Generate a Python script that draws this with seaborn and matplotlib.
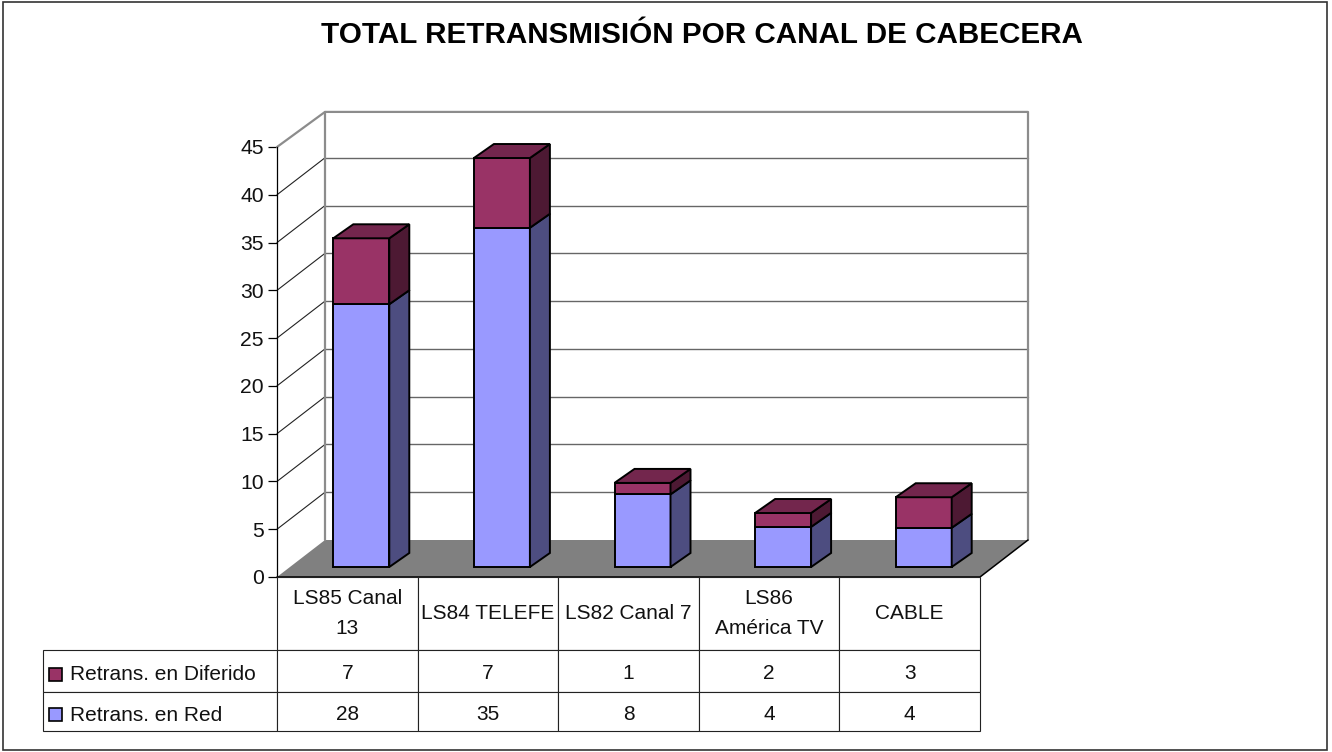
import matplotlib
matplotlib.use('Agg')
import matplotlib.pyplot as plt
from matplotlib.patches import Polygon, Rectangle
from matplotlib.transforms import Affine2D
import seaborn as sns

# categories and values, bar heights (table shows them rounded)
canales = ['LS85 Canal\n13', 'LS84 TELEFE', 'LS82 Canal 7', 'LS86\nAmérica TV', 'CABLE']
en_red = [27.5, 35.5, 7.6, 4.2, 4.1]
en_diferido = [6.9, 7.3, 1.2, 1.45, 3.2]
tabla_red = [28, 35, 8, 4, 4]
tabla_diferido = [7, 7, 1, 2, 3]
ticks_y = [0, 5, 10, 15, 20, 25, 30, 35, 40, 45]
titulo = 'TOTAL RETRANSMISIÓN POR CANAL DE CABECERA'

W, H = 1332, 752
sns.set_style('white')
plt.rcParams['font.family'] = ['Liberation Sans', 'DejaVu Sans']


def rect_px(left, top, right, bottom):
    return [left / W, 1 - bottom / H, (right - left) / W, (bottom - top) / H]


fig = plt.figure(figsize=(W / 100, H / 100), dpi=100)
fig.patch.set_facecolor('white')
fig.add_artist(Rectangle((3 / W, 1 - 750 / H), 1324 / W, 748 / H, transform=fig.transFigure,
                         fill=False, edgecolor='#333333', lw=1.2))
fig.text(702 / W, 1 - 35 / H, titulo, ha='center', va='center', fontsize=21.36, fontweight='bold', color='black')

# front plane: value axis, walls and floor
pos = rect_px(277, 147, 980, 577)
ax = fig.add_axes(pos)
ax.set_xlim(-0.5, 4.5)
ax.set_ylim(0, 45)
ax.patch.set_visible(False)
for lado in ['top', 'right', 'bottom']:
    ax.spines[lado].set_visible(False)
ax.spines['left'].set_color('black')
ax.spines['left'].set_linewidth(0.9)
ax.set_xticks([])
ax.set_yticks(ticks_y)
ax.tick_params(axis='y', left=True, length=6.5, width=0.9, color='black', labelsize=15.2, pad=3,
               labelcolor='#111111')

px_x = 703 / 5
px_y = 430 / 45
fx, fy = 48 / px_x, 37 / px_y
x0, x1 = -0.5, 4.5

ax.add_patch(Polygon([(x0, 0), (x0 + fx, fy), (x1 + fx, fy), (x1, 0)], closed=True, facecolor='#808080',
                     edgecolor='none', clip_on=False, zorder=1))
for v in ticks_y[1:-1]:
    ax.plot([x0, x0 + fx], [v, v + fy], color='#222222', lw=0.8, clip_on=False, zorder=1)
    ax.plot([x0 + fx, x1 + fx], [v + fy, v + fy], color='#666666', lw=1.0, clip_on=False, zorder=1)
# wall outline
tope = 45 + fy - 0.2
ax.plot([x0, x0 + fx, x1 + fx, x1 + fx], [45, tope, tope, fy], color='#8c8c8c', lw=1.6,
        clip_on=False, zorder=1)
ax.plot([x0 + fx, x0 + fx], [fy, tope], color='#8c8c8c', lw=1.6, clip_on=False, zorder=1)
ax.plot([x0, x1, x1 + fx], [0, 0, fy], color='black', lw=1.1, clip_on=False, zorder=2)

# bars sit a bit behind the front plane, so they get their own shifted axes
ax_b = fig.add_axes(pos)
ax_b.patch.set_visible(False)
sns.barplot(x=canales, y=en_red, color='#9999FF', saturation=1, width=56 / px_x, edgecolor='black',
            linewidth=1.4, ax=ax_b, zorder=3)
n_red = len(ax_b.patches)
sns.barplot(x=canales, y=en_diferido, bottom=en_red, color='#993366', saturation=1, width=56 / px_x,
            edgecolor='black', linewidth=1.4, ax=ax_b, zorder=3)
ax_b.set_xlim(-0.5 - 14 / px_x, 4.5 - 14 / px_x)
ax_b.set_ylim(-10 / px_y, 45 - 10 / px_y)
ax_b.axis('off')

# oblique side and top faces taken from the bars seaborn drew
bx, by = 20 / px_x, 14 / px_y
for i, bar in enumerate(ax_b.patches):
    izq, der = bar.get_x(), bar.get_x() + bar.get_width()
    abajo, arriba = bar.get_y(), bar.get_y() + bar.get_height()
    lado = '#4D4D80' if i < n_red else '#4D1933'
    ax_b.add_patch(Polygon([(der, abajo), (der + bx, abajo + by), (der + bx, arriba + by), (der, arriba)],
                           closed=True, facecolor=lado, edgecolor='black', lw=1.4, clip_on=False, zorder=3))
    if i >= n_red:
        ax_b.add_patch(Polygon([(izq, arriba), (izq + bx, arriba + by), (der + bx, arriba + by), (der, arriba)],
                               closed=True, facecolor='#73264D', edgecolor='black', lw=1.4, clip_on=False, zorder=3))

# data table below the plot
ax_t = fig.add_axes(rect_px(43, 577, 980, 731))
ax_t.set_xlim(43, 980)
ax_t.set_ylim(731, 577)
ax_t.axis('off')
filas = [[''] + canales,
         ['Retrans. en Diferido'] + [str(v) for v in tabla_diferido],
         ['Retrans. en Red'] + [str(v) for v in tabla_red]]
anchos = [234 / 937] + [703 / 5 / 937] * 5
alturas = [73 / 154, 42 / 154, 39 / 154]
tabla = ax_t.table(cellText=filas, colWidths=anchos, bbox=[0, 0, 1, 1], cellLoc='center')
tabla.auto_set_font_size(False)
tabla.set_fontsize(15)
for (f, c), celda in tabla.get_celld().items():
    celda.set_height(alturas[f])
    celda.set_linewidth(0.8)
    celda.set_edgecolor('#222222')
    texto = celda.get_text()
    texto.set_color('#111111')
    texto.set_linespacing(1.75)
    if c == 0:
        celda.PAD = 27 / 234
        texto.set_ha('left')
    # the table centres text a little high, nudge it down in display pixels
    if f > 0:
        texto.set_transform(Affine2D().translate(0, -4 if c == 0 else -2.5))
tabla[(0, 0)].visible_edges = ''
ax_t.add_patch(Rectangle((49, 668), 13, 13, facecolor='#993366', edgecolor='black', lw=1.2, zorder=5))
ax_t.add_patch(Rectangle((49, 708), 13, 13, facecolor='#9999FF', edgecolor='black', lw=1.2, zorder=5))

fig.savefig('out.png', dpi=100)
plt.close()
